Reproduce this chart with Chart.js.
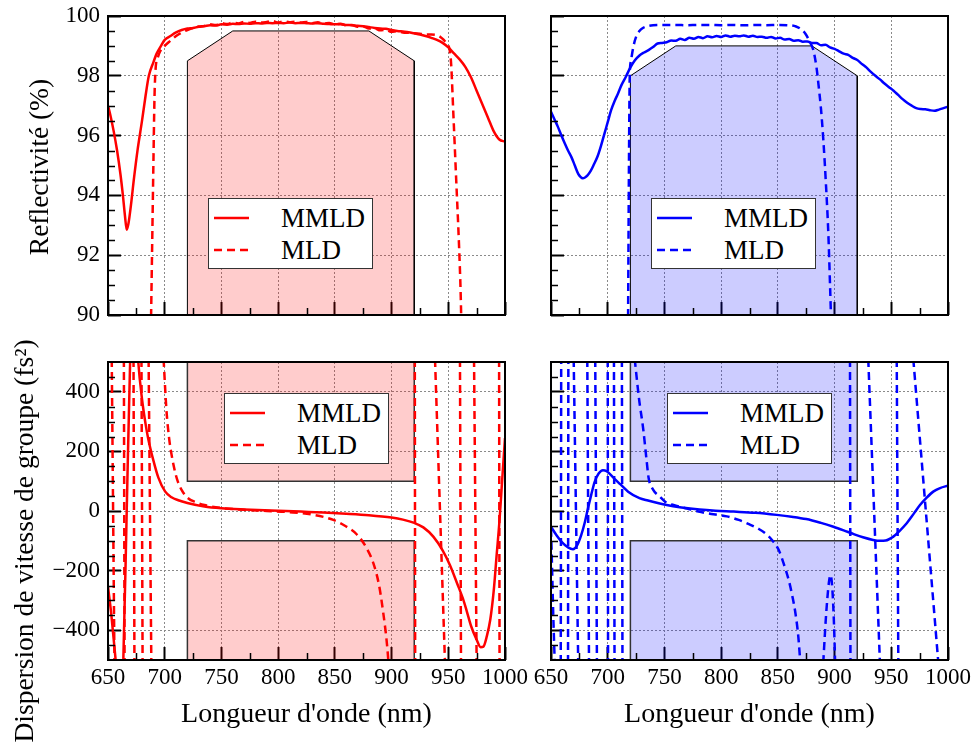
<!DOCTYPE html>
<html><head><meta charset="utf-8">
<script src="https://cdn.jsdelivr.net/npm/chart.js@4.4.1/dist/chart.umd.min.js"></script>
<style>
html,body{margin:0;padding:0;background:#fff;}
#wrap{position:relative;width:977px;height:746px;overflow:hidden;background:#fff;}
canvas{position:absolute;left:0;top:0;}
.legend{position:absolute;width:165px;height:71px;background:#fff;border:1.5px solid #333;box-sizing:border-box;font-family:'Liberation Serif','Times New Roman',serif;font-size:27px;color:#000;}
.legend .row{position:absolute;left:5px;height:32px;display:flex;align-items:center;white-space:nowrap;}
.legend svg{display:block;margin-right:32px;}
</style></head><body>
<div id="wrap">
<canvas id="tl" width="977" height="746"></canvas>
<canvas id="tr" width="977" height="746"></canvas>
<canvas id="bl" width="977" height="746"></canvas>
<canvas id="br" width="977" height="746"></canvas>
</div>
<script>
// ---------------- data ----------------
const seriesNames = ['MMLD', 'MLD'];
const xTickValues = [650, 700, 750, 800, 850, 900, 950, 1000];
const reflTickValues = [90, 92, 94, 96, 98, 100];
const gddTickValues = [-400, -200, 0, 200, 400];
const xTitle = "Longueur d'onde (nm)";
const reflTitle = 'Reflectivité (%)';
const gddTitle = 'Dispersion de vitesse de groupe (fs\u00B2)';

// shaded specification regions
const redBandX = [720, 720, 760, 880, 920, 920];
const redBandY = [90, 98.5, 99.5, 99.5, 98.5, 90];
const blueBandX = [720, 720, 760, 880, 920, 920];
const blueBandY = [90, 98, 99, 99, 98, 90];
const gddBandX = [720, 720, 920, 920];
const gddUpperY = [500, 100, 100, 500];
const gddLowerY = [-500, -100, -100, -500];

// Reflectivity, red design
const reflRedMMLD = [[650,97.0],[652,96.7],[655,96.15],[658,95.5],[661,94.7],[663,94.05],[665,93.3],[666.5,92.85],[668,93.05],[670,93.6],[673,94.6],[676,95.5],[680,96.5],[683,97.3],[686,98.0],[690,98.45],[693,98.75],[697,99.02],[700,99.2],[705,99.33],[710,99.45],[715,99.53],[720,99.58],[725,99.6],[730,99.64],[735,99.66],[740,99.69],[745,99.68],[750,99.72],[755,99.71],[760,99.74],[765,99.73],[770,99.75],[775,99.74],[780,99.76],[785,99.75],[790,99.77],[795,99.76],[800,99.77],[805,99.76],[810,99.78],[815,99.76],[820,99.77],[825,99.76],[830,99.75],[835,99.76],[840,99.74],[845,99.73],[850,99.72],[855,99.72],[860,99.7],[865,99.69],[870,99.67],[875,99.66],[880,99.63],[885,99.6],[890,99.58],[895,99.57],[900,99.53],[905,99.5],[910,99.48],[915,99.46],[920,99.42],[925,99.38],[930,99.33],[935,99.27],[940,99.2],[945,99.1],[950,98.95],[955,98.75],[960,98.55],[965,98.3],[970,97.95],[975,97.5],[980,97.05],[985,96.6],[990,96.15],[995,95.87],[1000,95.8]];
const reflRedMLD = [[687.8,89.5],[689,92.5],[690,95],[691,97.3],[692,98.25],[694,98.62],[696,98.82],[700,99.0],[705,99.17],[710,99.33],[715,99.45],[720,99.53],[725,99.6],[730,99.65],[735,99.67],[740,99.72],[745,99.7],[750,99.76],[755,99.73],[760,99.78],[765,99.75],[770,99.8],[775,99.77],[780,99.81],[785,99.78],[790,99.8],[795,99.83],[800,99.78],[805,99.82],[810,99.79],[815,99.81],[820,99.78],[825,99.8],[830,99.76],[835,99.79],[840,99.74],[845,99.77],[850,99.72],[855,99.74],[860,99.69],[865,99.7],[870,99.64],[875,99.65],[880,99.58],[885,99.59],[890,99.52],[895,99.54],[900,99.47],[905,99.49],[910,99.45],[915,99.44],[920,99.42],[925,99.41],[930,99.38],[935,99.38],[940,99.36],[943,99.3],[946,99.2],[949,99.05],[951,98.9],[952.5,98.4],[954.5,96.7],[957,94.5],[959.5,92.3],[961,90.6],[961.6,89.5]];

// Reflectivity, blue design
const reflBlueMMLD = [[650,96.8],[653,96.55],[656,96.3],[659,96.02],[662,95.75],[665,95.5],[668,95.28],[671,95.0],[674,94.72],[676,94.62],[678,94.57],[680,94.6],[682,94.66],[685,94.82],[688,95.05],[691,95.3],[694,95.65],[697,96.05],[700,96.45],[703,96.85],[706,97.15],[709,97.4],[712,97.68],[716,97.97],[720,98.28],[724,98.52],[728,98.68],[732,98.78],[736,98.86],[740,98.96],[744,99.08],[748,99.1],[752,99.12],[756,99.18],[760,99.17],[764,99.24],[768,99.2],[772,99.27],[776,99.24],[780,99.3],[784,99.26],[788,99.32],[792,99.29],[796,99.33],[800,99.3],[804,99.35],[808,99.31],[812,99.34],[816,99.32],[820,99.35],[824,99.31],[828,99.34],[832,99.3],[836,99.31],[840,99.27],[844,99.3],[848,99.25],[852,99.27],[856,99.21],[860,99.23],[864,99.17],[868,99.19],[872,99.14],[876,99.15],[880,99.1],[884,99.1],[888,99.02],[892,99.04],[896,98.95],[900,98.9],[904,98.82],[908,98.74],[912,98.7],[916,98.6],[920,98.53],[924,98.4],[928,98.28],[932,98.13],[936,98.0],[940,97.88],[944,97.74],[948,97.62],[952,97.5],[956,97.36],[960,97.22],[964,97.1],[968,97.0],[972,96.92],[976,96.89],[980,96.88],[984,96.85],[988,96.83],[992,96.87],[996,96.92],[1000,96.97]];
const reflBlueMLD = [[717.9,89.5],[718.4,93],[718.9,96],[719.4,97.97],[720.5,98.5],[722.6,98.97],[725,99.3],[728,99.5],[731,99.6],[735,99.66],[740,99.69],[750,99.7],[760,99.7],[770,99.69],[780,99.7],[790,99.7],[800,99.69],[810,99.7],[820,99.69],[830,99.7],[840,99.69],[850,99.7],[860,99.69],[866,99.65],[870,99.57],[874,99.42],[878,99.15],[881.3,98.86],[884,98.3],[885.7,97.75],[888,96.9],[890.1,95.85],[892.5,94.3],[894.5,92.73],[896,91.0],[897.2,89.5]];

// Group delay dispersion, red design (null = break between branches)
const gddRedMMLD = [[650,-254],[653,-350],[656.5,-490],[658,-560],[660,-600],[662,-570],[663.5,-500],[666.5,0],[669.5,500],[672,720],[674.5,650],[676.7,500],[680,375],[683,295],[685.5,242],[690,170],[694.4,112],[700.3,66],[706,46],[712,36],[720,27],[735,15],[750,9],[770,5],[800,1],[820,-2],[840,-5],[860,-9],[880,-14],[900,-22],[910,-29],[920,-40],[928,-55],[936.8,-86],[945,-132],[951.5,-182],[958,-245],[963,-295],[966.2,-335],[970,-385],[975,-432],[978.5,-457],[981,-455],[984,-420],[987,-365],[990,-270],[992.7,-145],[995,-40],[997.1,80],[1000,245]];
const gddRedMLD = [[653.3,510],[655.7,-510],null,[664,510],[664.6,-510],null,[672.5,510],[673.3,-510],null,[679.5,510],[680.5,-510],null,[685.8,510],[688.2,-510],null,[699,510],[701.5,340],[704,240],[706,190],[708,150],[711,105],[715,70],[720,45],[727,30],[735,20],[750,10],[770,4],[790,0],[810,-4],[830,-12],[848.7,-30],[860,-52],[869.2,-78],[877,-118],[884,-176],[889,-250],[892.7,-343],[895.5,-430],[897.1,-500],[898,-560],null,[920.5,510],[920.8,-510],null,[938.3,510],[947.1,-510],null,[960.3,510],[961.2,-510],null,[972.7,510],[975,-510],null,[994.8,510],[995.2,-510]];

// Group delay dispersion, blue design
const gddBlueMMLD = [[650,-53],[655,-82],[660,-106],[665,-122],[669.4,-128],[673,-115],[676.7,-80],[680,-35],[682.6,9],[685.5,55],[688.5,98],[692,126],[695.8,137],[699,134],[702,124],[706,108],[711,90],[718,65],[728,43],[735.5,35],[752,20],[765,12],[781,5],[795,1],[811,-2],[830,-6],[849,-13],[862,-19],[875,-27],[888,-40],[899,-53],[908,-65],[916.5,-77],[925,-88],[934,-97],[940,-100],[945,-99],[951.8,-86],[957,-68],[963.6,-41],[970,-8],[975.3,20],[981,44],[987,65],[993,77],[1000,85]];
const gddBlueMLD = [[650,-60],[651,-200],[652,-350],[653.3,-510],null,[658.6,-510],[659,510],null,[665,-510],[665.3,510],null,[670,510],[674,-510],null,[682,510],[683.5,-510],null,[689,510],[690.5,-510],null,[700,510],[700.3,-510],null,[705.5,510],[706,-510],null,[712.5,510],[713,-510],null,[723.8,510],[727.5,380],[731.4,272],[734,180],[736.1,110],[740,72],[746,48],[751,30],[758,20],[770,8],[780,-2],[795,-12],[805,-18],[815.5,-30],[825,-45],[833,-60],[839,-75],[845,-98],[850.8,-131],[855,-175],[859.6,-232],[863,-290],[865.5,-343],[868,-420],[869.3,-483],[870,-520],null,[890,-510],[892.5,-350],[895,-240],[896.5,-215],[898,-260],[899.5,-380],[900.5,-510],null,[913.6,510],[914,-510],null,[929.7,510],[940,-510],null,[954.8,510],[956.2,-510],null,[969.4,510],[991.5,-510]];

// ---------------- helpers ----------------
const FONT = "'Liberation Serif', 'Times New Roman', serif";
Chart.defaults.font.family = FONT;
Chart.defaults.color = '#000';

function pts(arr) {
  const out = []; let lastX = 650;
  for (const p of arr) {
    if (p === null) out.push({x: lastX, y: null});
    else { out.push({x: p[0], y: p[1]}); lastX = p[0]; }
  }
  return out;
}
function poly(xs, ys) { return xs.map((x, i) => ({x: x, y: ys[i]})); }
function minorList(min, max, step, majors) {
  const out = [];
  for (let v = min + step; v < max - 1e-9; v += step) {
    const r = Math.round(v * 1000) / 1000;
    if (!majors.some(m => Math.abs(m - r) < 1e-6)) out.push(r);
  }
  return out;
}
function fmt(v) { return v < 0 ? '\u2212' + Math.abs(v) : String(v); }

const framePlugin = {
  id: 'frame',
  afterDatasetsDraw(chart, args, opts) {
    const {ctx, chartArea: a, scales} = chart;
    ctx.save();
    ctx.strokeStyle = '#000';
    ctx.lineWidth = 1.5;
    ctx.beginPath();
    (opts.xMinor || []).forEach(v => {
      const p = Math.round(scales.x.getPixelForValue(v)) + 0.5;
      ctx.moveTo(p, a.bottom); ctx.lineTo(p, a.bottom - 7);
    });
    (opts.yMinor || []).forEach(v => {
      const p = Math.round(scales.y.getPixelForValue(v)) + 0.5;
      ctx.moveTo(a.left, p); ctx.lineTo(a.left + 7, p);
    });
    ctx.stroke();
    ctx.lineWidth = 2;
    ctx.strokeRect(a.left, a.top, a.right - a.left, a.bottom - a.top);
    if (opts.sideTitle) {
      const t = opts.sideTitle;
      ctx.translate(t.x, t.y);
      ctx.rotate(-Math.PI / 2);
      ctx.font = t.size + 'px ' + FONT;
      ctx.fillStyle = '#000';
      ctx.textAlign = 'center';
      ctx.textBaseline = 'middle';
      ctx.fillText(t.text, 0, 0);
    }
    ctx.restore();
  }
};

function panel(id, cfg) {
  const a = cfg.area;
  const yW = cfg.yLabels ? 108 : 0;
  const xH = cfg.xLabels ? 71 : 0;
  const datasets = [];
  cfg.bands.forEach(b => datasets.push({
    data: b.data, fill: b.fill, backgroundColor: cfg.fillColor, borderColor: b.border,
    borderWidth: b.bw, pointRadius: 0, tension: 0, order: 5
  }));
  datasets.push({label: seriesNames[1], data: pts(cfg.mld), borderColor: cfg.color, borderWidth: 2.5,
    borderDash: [8, 5], pointRadius: 0, fill: false, cubicInterpolationMode: 'monotone', order: 2});
  datasets.push({label: seriesNames[0], data: pts(cfg.mmld), borderColor: cfg.color, borderWidth: 2.5,
    pointRadius: 0, fill: false, cubicInterpolationMode: 'monotone', order: 1});

  const gridCommon = {color: '#8a8a8a', lineWidth: 1, tickLength: -13, tickColor: '#000', tickWidth: 2};
  new Chart(document.getElementById(id), {
    type: 'line',
    data: {datasets},
    options: {
      responsive: false, animation: false, events: [],
      layout: {padding: {left: a.l - yW, top: a.t, right: 977 - a.r, bottom: 746 - a.b - xH}},
      plugins: {
        legend: {display: false}, tooltip: {enabled: false},
        frame: {xMinor: minorList(650, 1000, 25, xTickValues), yMinor: cfg.yMinor, sideTitle: cfg.sideTitle}
      },
      scales: {
        x: {
          type: 'linear', min: 650, max: 1000,
          afterBuildTicks: s => { s.ticks = xTickValues.map(v => ({value: v})); },
          afterFit: s => { s.height = xH; s.paddingLeft = 0; s.paddingRight = 0; },
          ticks: {display: cfg.xLabels, autoSkip: false, maxRotation: 0, minRotation: 0, padding: 17,
            font: {size: 23}, callback: v => fmt(v)},
          grid: gridCommon,
          border: {display: false, dash: [2, 2]},
          title: {display: cfg.xLabels, text: xTitle, font: {size: 28, lineHeight: 1.2}, padding: {top: 0, bottom: 0}}
        },
        y: {
          type: 'linear', min: cfg.yMin, max: cfg.yMax,
          afterBuildTicks: s => { s.ticks = cfg.yTicks.map(v => ({value: v})); },
          afterFit: s => { s.width = yW; s.paddingTop = 0; s.paddingBottom = 0; },
          ticks: {display: cfg.yLabels, autoSkip: false, padding: 21, font: {size: 23}, callback: v => fmt(v)},
          grid: gridCommon,
          border: {display: false, dash: [2, 2]}
        }
      }
    },
    plugins: [framePlugin]
  });
}

const reflMinor = minorList(90, 100, 0.5, reflTickValues);
const gddMinor = minorList(-500, 500, 50, gddTickValues);
const RED = '#ff0000', BLUE = '#0000ff';
const RED_FILL = 'rgba(255,0,0,0.2)', BLUE_FILL = 'rgba(0,0,255,0.2)';

panel('tl', {area: {l: 108, t: 16, r: 505, b: 315}, yLabels: true, xLabels: false,
  sideTitle: {text: reflTitle, x: 41, y: 167, size: 27.5},
  yMin: 90, yMax: 100, yTicks: reflTickValues, yMinor: reflMinor, color: RED, fillColor: RED_FILL,
  bands: [{data: poly(redBandX, redBandY), fill: 'start', border: '#000', bw: 1}],
  mmld: reflRedMMLD, mld: reflRedMLD});
panel('tr', {area: {l: 551, t: 16, r: 948, b: 315}, yLabels: false, xLabels: false,
  yMin: 90, yMax: 100, yTicks: reflTickValues, yMinor: reflMinor, color: BLUE, fillColor: BLUE_FILL,
  bands: [{data: poly(blueBandX, blueBandY), fill: 'start', border: '#000', bw: 1}],
  mmld: reflBlueMMLD, mld: reflBlueMLD});
panel('bl', {area: {l: 108, t: 362, r: 505, b: 660}, yLabels: true, xLabels: true,
  sideTitle: {text: gddTitle, x: 26, y: 541, size: 27.5},
  yMin: -500, yMax: 500, yTicks: gddTickValues, yMinor: gddMinor, color: RED, fillColor: RED_FILL,
  bands: [{data: poly(gddBandX, gddUpperY), fill: 'end', border: '#333', bw: 1.5},
          {data: poly(gddBandX, gddLowerY), fill: 'start', border: '#333', bw: 1.5}],
  mmld: gddRedMMLD, mld: gddRedMLD});
panel('br', {area: {l: 551, t: 362, r: 948, b: 660}, yLabels: false, xLabels: true,
  yMin: -500, yMax: 500, yTicks: gddTickValues, yMinor: gddMinor, color: BLUE, fillColor: BLUE_FILL,
  bands: [{data: poly(gddBandX, gddUpperY), fill: 'end', border: '#333', bw: 1.5},
          {data: poly(gddBandX, gddLowerY), fill: 'start', border: '#333', bw: 1.5}],
  mmld: gddBlueMMLD, mld: gddBlueMLD});

// ---------------- legends (HTML) ----------------
function legend(left, top, color) {
  const box = document.createElement('div');
  box.className = 'legend';
  box.style.left = left + 'px';
  box.style.top = top + 'px';
  seriesNames.forEach((name, i) => {
    const row = document.createElement('div');
    row.className = 'row';
    row.style.top = (3 + 32 * i) + 'px';
    row.innerHTML = '<svg width="35" height="8"><line x1="0" y1="4" x2="35" y2="4" stroke="' + color +
      '" stroke-width="2.5"' + (i ? ' stroke-dasharray="8 5"' : '') + '/></svg><span>' + name + '</span>';
    box.appendChild(row);
  });
  document.getElementById('wrap').appendChild(box);
}
legend(208, 198, RED);
legend(651, 198, BLUE);
legend(224, 393, RED);
legend(667, 393, BLUE);
</script>
</body></html>
